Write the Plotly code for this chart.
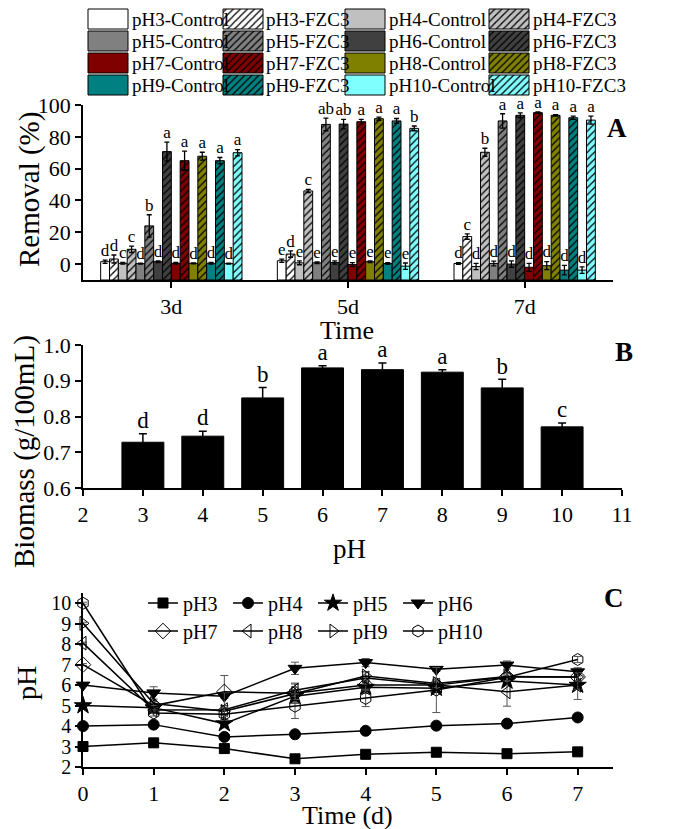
import plotly.graph_objects as go

# ---------------- Panel A data (removal %) ----------------
days = ["3d", "5d", "7d"]
ph_labels = ["pH3", "pH4", "pH5", "pH6", "pH7", "pH8", "pH9", "pH10"]
ph_colors = ["#FFFFFF", "#C0C0C0", "#808080", "#404040", "#800000", "#808000", "#008080", "#80FFFF"]

pH3_control = [1.5, 2.1, 0.4]
pH3_control_err = [1.0, 1.0, 0.5]
pH3_fzc3 = [3.2, 6.3, 17.3]
pH3_fzc3_err = [2.5, 2.0, 1.7]
pH4_control = [0.5, 0.8, -1.5]
pH4_control_err = [0.5, 1.2, 2.0]
pH4_fzc3 = [9.3, 46.0, 70.3]
pH4_fzc3_err = [2.0, 1.0, 2.5]
pH5_control = [0.3, 0.8, 0.4]
pH5_control_err = [0.3, 0.5, 1.5]
pH5_fzc3 = [24.0, 87.8, 90.0]
pH5_fzc3_err = [7.0, 4.0, 4.5]
pH6_control = [1.5, 1.0, 0.0]
pH6_control_err = [0.5, 1.0, 2.0]
pH6_fzc3 = [70.7, 88.0, 93.5]
pH6_fzc3_err = [6.0, 3.0, 1.5]
pH7_control = [0.5, -0.3, -2.0]
pH7_control_err = [0.5, 1.2, 2.5]
pH7_fzc3 = [65.0, 89.5, 95.2]
pH7_fzc3_err = [6.0, 1.5, 0.5]
pH8_control = [0.5, 1.5, -1.0]
pH8_control_err = [0.3, 0.5, 2.5]
pH8_fzc3 = [67.8, 91.4, 93.5]
pH8_fzc3_err = [2.5, 1.0, 0.5]
pH9_control = [0.5, 0.4, -3.8]
pH9_control_err = [0.5, 0.5, 3.0]
pH9_fzc3 = [65.0, 90.0, 92.0]
pH9_fzc3_err = [2.0, 1.5, 1.0]
pH10_control = [0.3, -1.3, -3.8]
pH10_control_err = [0.3, 2.0, 2.0]
pH10_fzc3 = [70.0, 85.3, 90.5]
pH10_fzc3_err = [2.0, 1.5, 2.5]

letters_pH3_control = ["d", "e", "d"]
letters_pH3_fzc3 = ["d", "d", "c"]
letters_pH4_control = ["c", "e", "d"]
letters_pH4_fzc3 = ["c", "c", "b"]
letters_pH5_control = ["d", "e", "d"]
letters_pH5_fzc3 = ["b", "ab", "a"]
letters_pH6_control = ["d", "e", "d"]
letters_pH6_fzc3 = ["a", "ab", "a"]
letters_pH7_control = ["d", "e", "d"]
letters_pH7_fzc3 = ["a", "a", "a"]
letters_pH8_control = ["d", "e", "d"]
letters_pH8_fzc3 = ["a", "a", "a"]
letters_pH9_control = ["d", "e", "d"]
letters_pH9_fzc3 = ["a", "a", "a"]
letters_pH10_control = ["d", "e", "d"]
letters_pH10_fzc3 = ["a", "b", "a"]

# ---------------- Panel B data (biomass) ----------------
biomass_ph = [3, 4, 5, 6, 7, 8, 9, 10]
biomass = [0.728, 0.745, 0.852, 0.936, 0.931, 0.924, 0.880, 0.771]
biomass_err = [0.024, 0.014, 0.029, 0.006, 0.019, 0.007, 0.024, 0.011]
biomass_letters = ["d", "d", "b", "a", "a", "a", "b", "c"]

# ---------------- Panel C data (pH over time) ----------------
time_d = [0, 1, 2, 3, 4, 5, 6, 7]
ph3_t = [3.0, 3.18, 2.9, 2.4, 2.62, 2.72, 2.65, 2.74]
ph4_t = [4.0, 4.07, 3.47, 3.6, 3.77, 4.02, 4.12, 4.42]
ph5_t = [5.0, 4.9, 4.12, 5.46, 5.9, 5.85, 6.2, 6.0]
ph6_t = [6.0, 5.62, 5.46, 6.82, 7.1, 6.77, 6.98, 6.65]
ph7_t = [7.0, 5.0, 5.67, 5.6, 6.0, 6.0, 6.4, 6.4]
ph8_t = [8.05, 4.78, 4.8, 5.75, 6.35, 6.0, 5.67, 6.0]
ph9_t = [9.02, 5.1, 4.72, 5.6, 6.45, 6.08, 6.42, 6.4]
ph10_t = [10.0, 4.64, 4.58, 4.97, 5.35, 5.76, 6.38, 7.25]
ph3_t_err = [0.05] * 8
ph4_t_err = [0.05] * 8
ph5_t_err = [0.05, 0.1, 0.2, 0.3, 0.3, 0.2, 0.1, 0.7]
ph6_t_err = [0.05, 0.3, 0.1, 0.3, 0.2, 0.1, 0.2, 0.2]
ph7_t_err = [0.05, 0.1, 0.8, 0.5, 0.2, 0.2, 0.2, 0.2]
ph8_t_err = [0.05, 0.1, 0.2, 0.3, 0.3, 0.2, 0.7, 0.2]
ph9_t_err = [0.05, 0.1, 0.2, 0.3, 0.2, 0.2, 0.2, 0.2]
ph10_t_err = [0.05, 0.15, 0.3, 0.6, 0.4, 1.1, 0.2, 0.15]

# ---------------- styling ----------------
W, H = 685, 829
PAGE_OFFSET = 8  # default page margin around the figure in the browser
FONT = "Liberation Serif, Times New Roman, serif"


def fx(p):
    return (p - PAGE_OFFSET) / W


def fy(p):
    return 1 - (p - PAGE_OFFSET) / H


fig = go.Figure()

# ---------- Panel A ----------
series_A = [
    ("pH3-Control", pH3_control, pH3_control_err, letters_pH3_control),
    ("pH3-FZC3", pH3_fzc3, pH3_fzc3_err, letters_pH3_fzc3),
    ("pH4-Control", pH4_control, pH4_control_err, letters_pH4_control),
    ("pH4-FZC3", pH4_fzc3, pH4_fzc3_err, letters_pH4_fzc3),
    ("pH5-Control", pH5_control, pH5_control_err, letters_pH5_control),
    ("pH5-FZC3", pH5_fzc3, pH5_fzc3_err, letters_pH5_fzc3),
    ("pH6-Control", pH6_control, pH6_control_err, letters_pH6_control),
    ("pH6-FZC3", pH6_fzc3, pH6_fzc3_err, letters_pH6_fzc3),
    ("pH7-Control", pH7_control, pH7_control_err, letters_pH7_control),
    ("pH7-FZC3", pH7_fzc3, pH7_fzc3_err, letters_pH7_fzc3),
    ("pH8-Control", pH8_control, pH8_control_err, letters_pH8_control),
    ("pH8-FZC3", pH8_fzc3, pH8_fzc3_err, letters_pH8_fzc3),
    ("pH9-Control", pH9_control, pH9_control_err, letters_pH9_control),
    ("pH9-FZC3", pH9_fzc3, pH9_fzc3_err, letters_pH9_fzc3),
    ("pH10-Control", pH10_control, pH10_control_err, letters_pH10_control),
    ("pH10-FZC3", pH10_fzc3, pH10_fzc3_err, letters_pH10_fzc3),
]
A_BASE = -10
BARGAP = 0.2
n_series = len(series_A)
bw = (1 - BARGAP) / n_series
group_x = list(range(len(days)))


def style_for(i):
    color = ph_colors[i // 2]
    hatched = (i % 2 == 1)
    if hatched:
        pattern = dict(shape="/", fgcolor="#000000", bgcolor=color, size=5, solidity=0.25, fillmode="replace")
    else:
        pattern = dict(shape="")
    return color, pattern


# ---------- Legend for panel A (drawn as swatches, placed first so it sits underneath) ----------
LEG_COL_SWATCH = [88, 223, 345, 489]
LEG_COL_TEXT = [130, 264, 387, 531]
LEG_ROW_Y = [19, 41, 63, 85]
for i, (name, vals, errs, lets) in enumerate(series_A):
    color, pattern = style_for(i)
    r, c = i // 4, i % 4
    fig.add_trace(go.Bar(
        y=[LEG_ROW_Y[r]], x=[40], base=[LEG_COL_SWATCH[c]], orientation="h", width=20,
        offsetgroup="leg",
        marker=dict(color=color, pattern=pattern, line=dict(color="black", width=1)),
        xaxis="x4", yaxis="y4", showlegend=False, hoverinfo="skip",
    ))
    fig.add_annotation(x=LEG_COL_TEXT[c], y=LEG_ROW_Y[r], xref="x4", yref="y4", text=name,
                       showarrow=False, xanchor="left", yanchor="middle",
                       font=dict(family=FONT, size=19, color="black"))

for i, (name, vals, errs, lets) in enumerate(series_A):
    color, pattern = style_for(i)
    fig.add_trace(go.Bar(
        x=group_x, y=[v - A_BASE for v in vals], base=A_BASE,
        marker=dict(color=color, pattern=pattern, line=dict(color="black", width=1)),
        error_y=dict(type="data", array=errs, visible=True, color="black", thickness=1.3, width=2.5),
        xaxis="x", yaxis="y", showlegend=False, name=name,
    ))
    xs = [g - (1 - BARGAP) / 2 + (i + 0.5) * bw for g in group_x]
    fig.add_trace(go.Scatter(
        x=xs, y=[v + e for v, e in zip(vals, errs)], mode="text", text=lets,
        textposition="top center", textfont=dict(family=FONT, size=17, color="black"),
        xaxis="x", yaxis="y", showlegend=False, cliponaxis=False, hoverinfo="skip",
    ))

# ---------- Panel B ----------
fig.add_trace(go.Bar(
    x=biomass_ph, y=biomass, width=0.7,
    marker=dict(color="black", line=dict(color="black", width=1)),
    error_y=dict(type="data", array=biomass_err, visible=True, color="black", thickness=1.5, width=4),
    xaxis="x2", yaxis="y2", showlegend=False,
))
fig.add_trace(go.Scatter(
    x=biomass_ph, y=[v + e for v, e in zip(biomass, biomass_err)], mode="text", text=biomass_letters,
    textposition="top center", textfont=dict(family=FONT, size=23, color="black"),
    xaxis="x2", yaxis="y2", showlegend=False, cliponaxis=False, hoverinfo="skip",
))

# ---------- Panel C ----------
series_C = [
    ("pH3", ph3_t, ph3_t_err, "square", 10, "legend"),
    ("pH4", ph4_t, ph4_t_err, "circle", 11, "legend"),
    ("pH5", ph5_t, ph5_t_err, "star", 13, "legend"),
    ("pH6", ph6_t, ph6_t_err, "triangle-down", 12, "legend"),
    ("pH7", ph7_t, ph7_t_err, "diamond-open", 12, "legend2"),
    ("pH8", ph8_t, ph8_t_err, "triangle-left-open", 12, "legend2"),
    ("pH9", ph9_t, ph9_t_err, "triangle-right-open", 12, "legend2"),
    ("pH10", ph10_t, ph10_t_err, "hexagon-open", 12, "legend2"),
]
for name, vals, errs, sym, size, leg in series_C:
    fig.add_trace(go.Scatter(
        x=time_d, y=vals, mode="lines+markers", name=name,
        line=dict(color="black", width=1.5),
        marker=dict(symbol=sym, size=size, color="black", line=dict(color="black", width=1)),
        error_y=dict(type="data", array=errs, visible=True, color="#555555", thickness=1, width=4),
        xaxis="x3", yaxis="y3", cliponaxis=False, legend=leg,
    ))

axis_common = dict(showline=True, linecolor="black", linewidth=1.5, ticks="outside", ticklen=6,
                   tickwidth=1.5, tickcolor="black", showgrid=False, zeroline=False, automargin=False,
                   tickfont=dict(family=FONT, size=22, color="black"), mirror=False)

legend_common = dict(orientation="h", bgcolor="rgba(0,0,0,0)", font=dict(family=FONT, size=20, color="black"),
                     entrywidth=40, xanchor="left", yanchor="middle", tracegroupgap=0, itemwidth=30)

fig.update_layout(
    width=W, height=H, margin=dict(l=0, r=0, t=0, b=0, pad=0, autoexpand=False),
    paper_bgcolor="white", plot_bgcolor="rgba(0,0,0,0)",
    barmode="group", bargap=BARGAP, bargroupgap=0,
    xaxis=dict(axis_common, domain=[fx(83), fx(613)], range=[-0.5, 2.5], tickvals=group_x, ticktext=days,
               anchor="y"),
    yaxis=dict(axis_common, domain=[fy(280), fy(105)], range=[-10, 100], tickvals=[0, 20, 40, 60, 80, 100],
               anchor="x"),
    xaxis2=dict(axis_common, domain=[fx(83), fx(622)], range=[2, 11], dtick=1, anchor="y2"),
    yaxis2=dict(axis_common, domain=[fy(488), fy(345)], range=[0.6, 1.0], dtick=0.1, tickformat=".1f",
                anchor="x2"),
    xaxis3=dict(axis_common, domain=[fx(83), fx(613)], range=[0, 7.5], dtick=1, anchor="y3"),
    yaxis3=dict(axis_common, domain=[fy(767), fy(593)], range=[2, 10.5], tickvals=list(range(2, 11)),
                anchor="x3", tickfont=dict(family=FONT, size=20, color="black")),
    xaxis4=dict(domain=[0, 1], range=[PAGE_OFFSET, W + PAGE_OFFSET], visible=False, anchor="y4",
                fixedrange=True, automargin=False),
    yaxis4=dict(domain=[1 - 100 / H, 1], range=[100 + PAGE_OFFSET, PAGE_OFFSET], visible=False, anchor="x4",
                fixedrange=True, automargin=False),
    legend=dict(legend_common, x=fx(143), y=fy(603)),
    legend2=dict(legend_common, x=fx(143), y=fy(631)),
    showlegend=True,
)

# axis titles and panel letters
titles = [
    ("Removal (%)", 30, 190, -90, 29, False),
    ("Time", 347, 330, 0, 26, False),
    ("Biomass (g/100mL)", 24, 452, -90, 29, False),
    ("pH", 349, 549, 0, 27, False),
    ("pH", 26, 683, -90, 28, False),
    ("Time (d)", 347, 815, 0, 26, False),
    ("A", 617, 128, 0, 27, True),
    ("B", 624, 352, 0, 27, True),
    ("C", 614, 598, 0, 27, True),
]
for txt, px, py, ang, size, bold in titles:
    fig.add_annotation(x=fx(px), y=fy(py), xref="paper", yref="paper",
                       text=f"<b>{txt}</b>" if bold else txt, showarrow=False, textangle=ang,
                       xanchor="center", yanchor="middle",
                       font=dict(family=FONT, size=size, color="black"))

fig.write_html("out.html")
